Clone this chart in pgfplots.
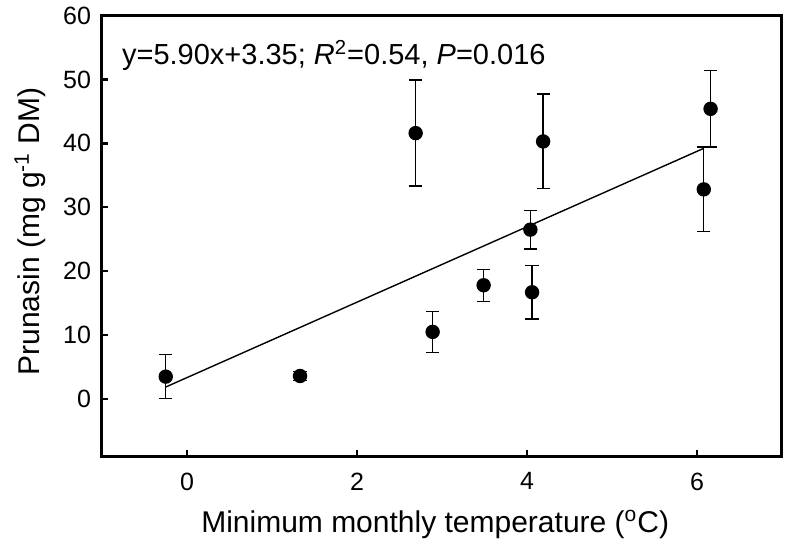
\documentclass[border=0pt]{standalone}
\usepackage{fontspec}
\setmainfont{Liberation Sans}
\usepackage{pgfplots}
\pgfplotsset{compat=1.18}
\begin{document}
\begin{tikzpicture}
\begin{axis}[
  scale only axis,
  width=340pt, height=220.5pt,
  xmin=-1, xmax=7, ymin=-9, ymax=60,
  xtick={0,2,4,6}, ytick={0,10,20,30,40,50,60},
  tick align=inside,
  xtick pos=bottom, ytick pos=left,
  major tick length=3.2pt,
  every tick/.style={black, line width=1.2pt},
  axis line style={line width=1.5pt},
  /pgf/number format/assume math mode=true,
  ticklabel style={font=\fontsize{12.5}{14}\selectfont},
  xticklabel style={yshift=-4.5pt},
  yticklabel style={xshift=-2pt},
  xlabel={Minimum monthly temperature (\textsuperscript{o}C)},
  ylabel={Prunasin (mg g\textsuperscript{-1} DM)},
  label style={font=\fontsize{15}{17}\selectfont},
  xlabel style={at={(axis description cs:0.49,-0.154)}, anchor=center},
  ylabel style={at={(axis description cs:-0.106,0.51)}, anchor=center},
  clip=false,
]
\path (rel axis cs:-0.15,-0.1905) rectangle (rel axis cs:1.0059,1.0317);
\addplot[black, line width=0.6pt, only marks, mark=*, mark size=3.3pt,
  error bars/.cd, y dir=both, y explicit,
  error bar style={line width=0.7pt, black},
  error mark options={rotate=90, mark size=3.3pt, line width=0.7pt, black}]
coordinates {
  (-0.25,3.5) +- (0,3.45)
  (1.33,3.6) +- (0,0.7)
  (2.69,41.6) +- (0,8.3)
  (2.89,10.5) +- (0,3.2)
  (3.49,17.8) +- (0,2.5)
  (4.04,26.5) +- (0,3.0)
  (4.06,16.7) +- (0,4.2)
  (4.19,40.3) +- (0,7.4)
  (6.08,32.8) +- (0,6.6)
  (6.16,45.4) +- (0,6.0)
};
\addplot[black, line width=0.7pt, no marks] coordinates {(-0.25,1.875) (6.08,39.22)};
\node[anchor=base west, font=\fontsize{14.5}{16}\selectfont, inner sep=0pt]
  at (rel axis cs:0.029,0.889) {y=5.90x+3.35; \textit{R}\textsuperscript{2}=0.54, \textit{P}=0.016};
\end{axis}
\end{tikzpicture}
\end{document}
